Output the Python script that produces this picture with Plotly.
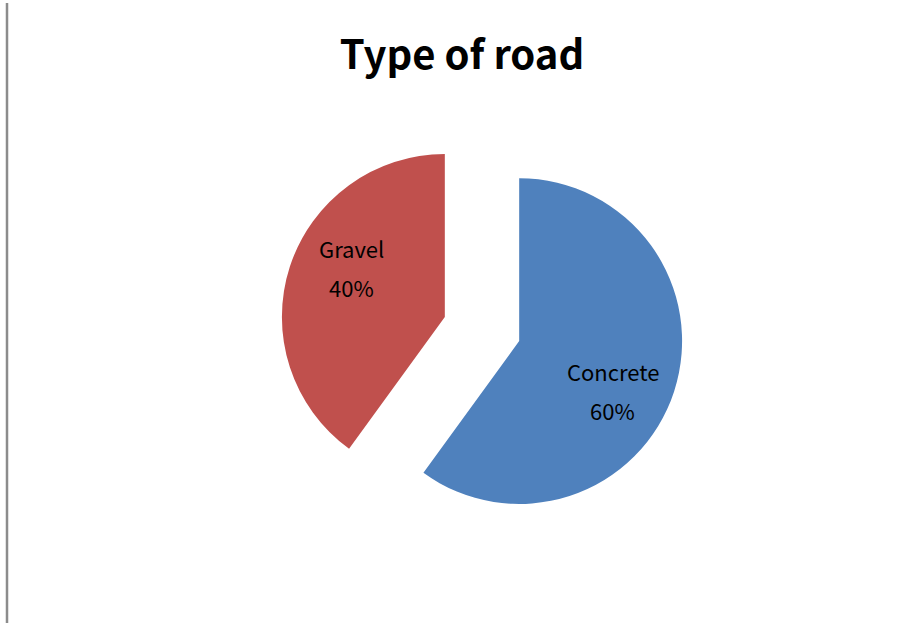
import math
import plotly.graph_objects as go

# Road surface shares
road_types = ["Concrete", "Gravel"]
shares = [60, 40]
slice_colors = ["#4F81BD", "#C0504D"]
explode = 0.24

W, H = 909, 623
ml, mr, mt, mb = 100, 45, 127, 92
pw = W - ml - mr
ph = H - mt - mb

fig = go.Figure(
    go.Pie(
        labels=road_types,
        values=shares,
        sort=False,
        direction="clockwise",
        rotation=0,
        pull=[explode] * len(shares),
        marker=dict(colors=slice_colors, line=dict(width=0)),
        textinfo="none",
        showlegend=False,
        hoverinfo="label+percent",
    )
)

# Data labels: category name above its percentage, placed inside each
# exploded slice along a direction derived from the slice's angular span.
label_font = dict(family="Noto Sans CJK JP", size=22, color="#000000")
radius_px = min(pw, ph) / (2 + 2 * explode)
cx, cy = ml + pw / 2, mt + ph / 2
label_radius = 0.65
angle_offset = 10  # degrees, clockwise
line_gap = 39

total = sum(shares)
start = 0.0
for name, val in zip(road_types, shares):
    span = 360.0 * val / total
    mid = math.radians(start + span / 2)
    lab = math.radians(start + span / 2 + angle_offset)
    ax_ = cx + explode * radius_px * math.sin(mid)
    ay_ = cy - explode * radius_px * math.cos(mid)
    px = ax_ + label_radius * radius_px * math.sin(lab)
    py = ay_ - label_radius * radius_px * math.cos(lab)
    xp = (px - ml) / pw
    yp = 1 - (py - mt) / ph
    pct = f"{round(100 * val / total)}%"
    for txt, shift in ((name, line_gap / 2), (pct, -line_gap / 2)):
        fig.add_annotation(
            x=xp, y=yp, xref="paper", yref="paper",
            text=txt, showarrow=False, yshift=shift,
            xanchor="center", yanchor="middle",
            font=label_font,
        )
    start += span

fig.update_layout(
    width=W,
    height=H,
    margin=dict(l=ml, r=mr, t=mt, b=mb),
    paper_bgcolor="#ffffff",
    plot_bgcolor="#ffffff",
    title=dict(
        text="<b>Type of road</b>",
        x=462 / W,
        xanchor="center",
        y=1 - 55 / H,
        yanchor="middle",
        font=dict(family="Noto Sans CJK JP", size=40, color="#000000"),
    ),
)

# Thin grey frame edge on the left side of the chart area
fig.add_shape(
    type="line",
    xref="paper",
    yref="paper",
    x0=(7 - ml) / pw,
    x1=(7 - ml) / pw,
    y0=-(mb + 5) / ph,
    y1=1 + (mt - 3) / ph,
    line=dict(color="#8c8c8c", width=2.5),
)

fig.write_html("out.html")
